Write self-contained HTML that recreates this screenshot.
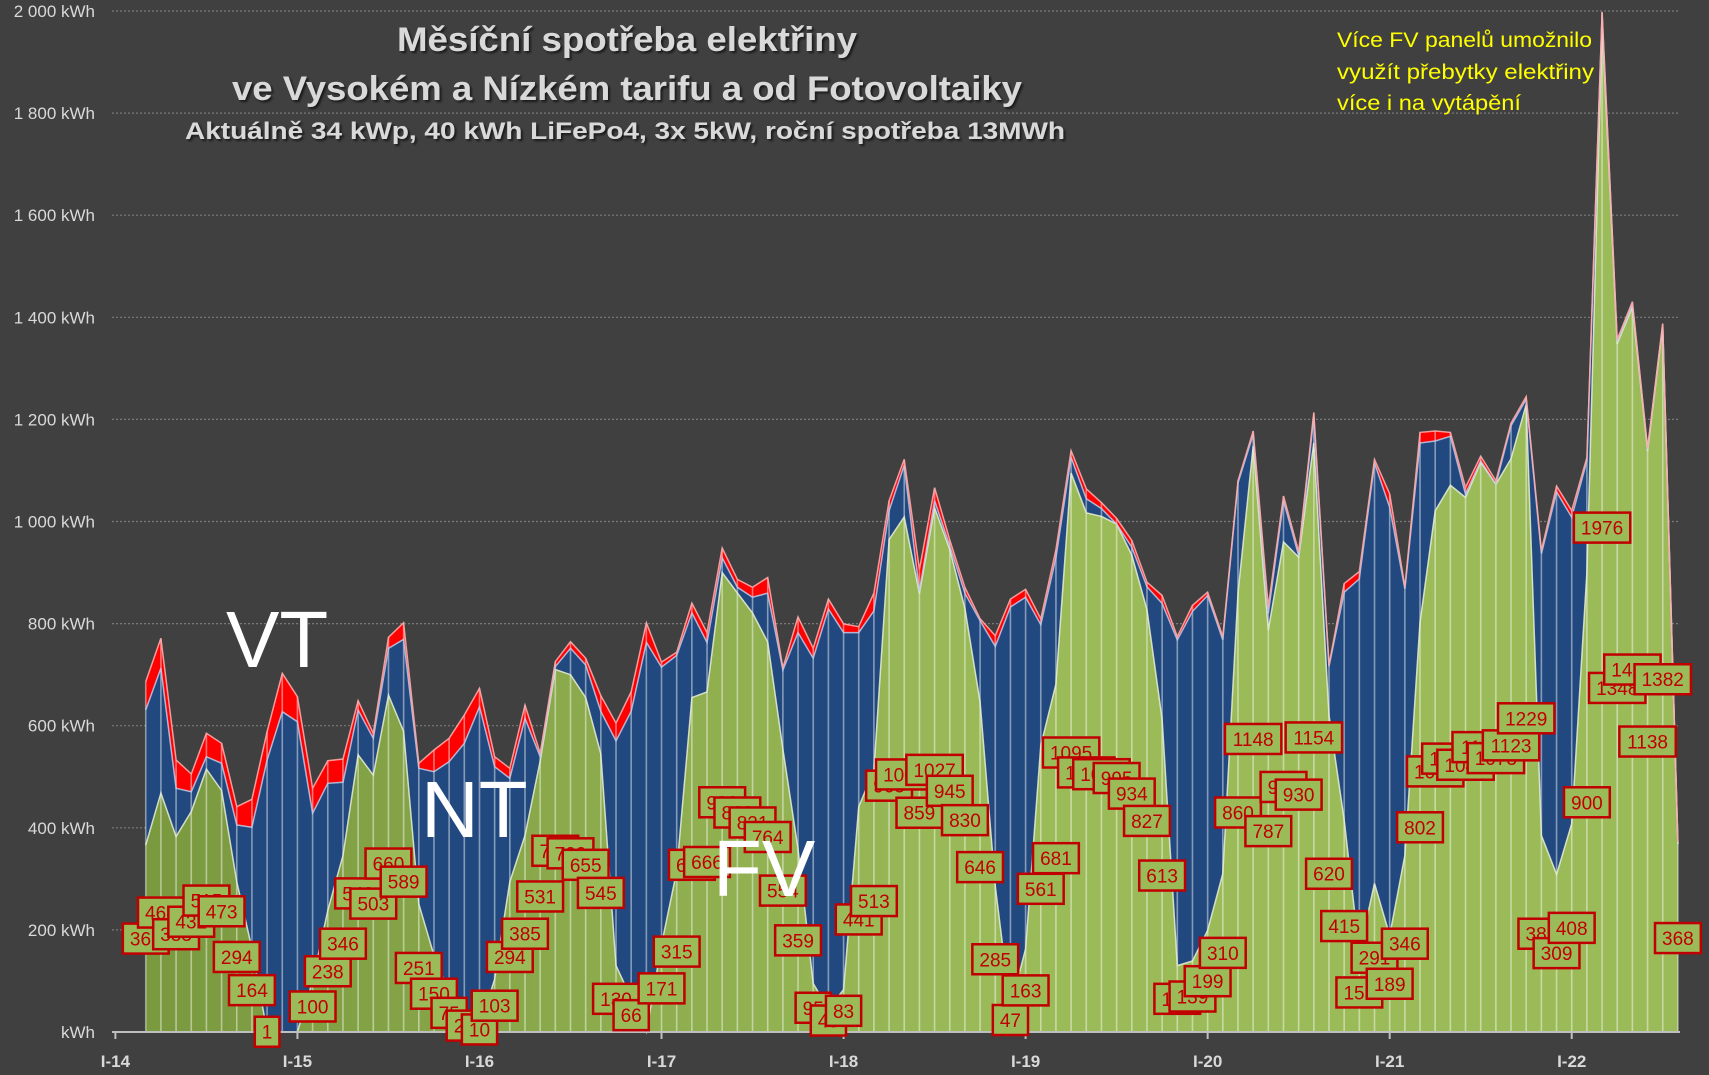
<!DOCTYPE html>
<html><head><meta charset="utf-8"><style>
html,body{margin:0;padding:0;background:#404040;}
svg{display:block;}
</style></head><body>
<svg id="c" width="1709" height="1075" viewBox="0 0 1709 1075" xmlns="http://www.w3.org/2000/svg" font-family="Liberation Sans, sans-serif">
<defs>
<linearGradient id="gg" x1="140" y1="0" x2="1000" y2="0" gradientUnits="userSpaceOnUse">
<stop offset="0" stop-color="#7a993f"/><stop offset="1" stop-color="#9bbb59"/>
</linearGradient>
<filter id="sh"><feDropShadow dx="2" dy="2" stdDeviation="1" flood-color="#000" flood-opacity="0.6"/></filter>
</defs>
<rect width="1709" height="1075" fill="#404040"/>
<g id="grid"></g>
<g id="areas"></g>
<g id="axis"></g>
<g id="labels"></g>
<g fill="#d9d9d9" font-weight="bold" text-anchor="middle" filter="url(#sh)">
<text x="627" y="51" font-size="34" textLength="460" lengthAdjust="spacingAndGlyphs">Měsíční spotřeba elektřiny</text>
<text x="627" y="100" font-size="34" textLength="790" lengthAdjust="spacingAndGlyphs">ve Vysokém a Nízkém tarifu a od Fotovoltaiky</text>
<text x="625" y="139" font-size="24" textLength="880" lengthAdjust="spacingAndGlyphs">Aktuálně 34 kWp, 40 kWh LiFePo4, 3x 5kW, roční spotřeba 13MWh</text>
</g>
<g fill="#ffff00" font-size="21">
<text x="1337" y="47" textLength="255" lengthAdjust="spacingAndGlyphs">Více FV panelů umožnilo</text>
<text x="1337" y="79" textLength="257" lengthAdjust="spacingAndGlyphs">využít přebytky elektřiny</text>
<text x="1337" y="110" textLength="184" lengthAdjust="spacingAndGlyphs">více i na vytápění</text>
</g>
<g fill="#ffffff" font-size="80">
<text x="226" y="667">VT</text>
<text x="421" y="837">NT</text>
<text x="713" y="896">FV</text>
</g>
</svg>
<script>
(function(){
var NS="http://www.w3.org/2000/svg";
function el(p,t,a,txt){var e=document.createElementNS(NS,t);for(var k in a)e.setAttribute(k,a[k]);if(txt!==undefined)e.textContent=txt;p.appendChild(e);return e;}
var X=function(m){return 115.4+15.17*m;};
var B0=1032,K=0.5105;
var R2=[395,265,630,672,550,580,770,748,545,370,440,715,632,627,452,550,262,218,640,600,565,495,415,620,655,465,610,335,275,325];
var Bz2=[480,355,715,725,620,640,825,832,630,485,515,790,700,697,480,565,295,268,655,665,635,580,470,650,685,505,620,350,295,345];
var R3=[700,770,690,515,615,590,465,540,325,405,425,400,630,500,580,455,518,525,440,205,100,380,172,305,425,505,548,455,430,505,330,78,175,210,250];
var Bz3=[740,815,740,565,628,598,490,565,350,425,450,440,635,540,605,480,540,540,485,230,115,435,205,320,440,510,575,475,450,520,350,95,200,225,270];
var R4=[815,878,898,960,913,893,960,725,650,915,748,832,622,1003,880,862,693,745,885,652,650,652,735,688,725,638,598,830,733,770,690,18,512,455,675,488,1270];
var Bz4=[825,885,910,965,922,898,965,728,655,925,755,838,628,1005,893,873,698,765,888,668,665,658,745,695,730,642,602,835,742,780,695,20,515,458,678,490,1272];
var G=[366,468,383,432,515,473,294,164,1,0,0,100,238,346,543,503,660,589,251,150,75,25,10,103,294,385,531,710,700,655,
545,130,66,0,171,315,655,666,900,860,821,764,554,359,95,45,83,441,513,965,1009,859,1027,945,830,646,285,47,163,561,681,1095,1017,1010,995,
934,827,613,130,139,199,310,860,1148,787,960,930,1154,620,415,155,291,189,346,802,1021,1071,1047,1116,1073,1123,1229,385,309,408,900,1976,1348,1420,1138,1382,368];
var Ry=[],By=[],Gy=[],M=[];
R2.forEach(function(v,i){Ry.push(550+v/3);By.push(550+Bz2[i]/3);});
R3.forEach(function(v,i){Ry.push(420+v/2.54);By.push(420+Bz3[i]/2.54);});
R4.forEach(function(v,i){Ry.push(v/1.508);By.push(Bz4[i]/1.508);});
for(var i=0;i<G.length;i++){M.push(i+2);Gy.push(B0-K*G[i]);}
for(i=0;i<G.length;i++){if(By[i]>Gy[i])By[i]=Gy[i];if(Ry[i]>By[i])Ry[i]=By[i];}
var n=G.length;
var grid=document.getElementById('grid');
var ylab=["kWh","200 kWh","400 kWh","600 kWh","800 kWh","1 000 kWh","1 200 kWh","1 400 kWh","1 600 kWh","1 800 kWh","2 000 kWh"];
for(i=0;i<=10;i++){var y=B0-i*102.1;
 if(i>0)el(grid,'line',{x1:112,x2:1678,y1:y,y2:y,stroke:'#7a7a7a','stroke-width':1.2,'stroke-dasharray':'2 2'});
 el(grid,'text',{x:95,y:y+6,'font-size':17,fill:'#d9d9d9','text-anchor':'end'},ylab[i]);}
var A=document.getElementById('areas');
function pts(arr){return arr.map(function(y,i){return X(M[i]).toFixed(1)+','+y.toFixed(1);});}
function rev(a){return a.slice().reverse();}
var gp=pts(Gy),bp=pts(By),rp=pts(Ry);
el(A,'polygon',{points:gp.join(' ')+' '+X(M[n-1])+','+B0+' '+X(2)+','+B0,fill:'url(#gg)'});
el(A,'polygon',{points:bp.join(' ')+' '+rev(gp).join(' '),fill:'#22497f'});
el(A,'polygon',{points:rp.join(' ')+' '+rev(bp).join(' '),fill:'#ff0000'});
for(i=0;i<n;i++){el(A,'line',{x1:X(M[i]),x2:X(M[i]),y1:B0,y2:Ry[i],stroke:'rgba(255,255,255,0.45)','stroke-width':1.6});}
el(A,'polyline',{points:gp.join(' '),fill:'none',stroke:'rgba(235,240,215,0.85)','stroke-width':1.5});
el(A,'polyline',{points:bp.join(' '),fill:'none',stroke:'rgba(190,205,235,0.85)','stroke-width':1.5});
el(A,'polyline',{points:rp.join(' '),fill:'none',stroke:'rgba(255,170,170,0.9)','stroke-width':1.5});
var ax=document.getElementById('axis');
el(ax,'line',{x1:112,x2:1680,y1:B0,y2:B0,stroke:'#bfbfbf','stroke-width':2});
for(i=0;i<=8;i++){var x=X(12*i);el(ax,'line',{x1:x,x2:x,y1:B0,y2:B0+7,stroke:'#bfbfbf','stroke-width':2});
 el(ax,'text',{x:x,y:1067,'font-size':17,'font-weight':'bold',fill:'#d9d9d9','text-anchor':'middle'},'I-'+(14+i));}
var L=document.getElementById('labels');
for(i=0;i<n;i++){if(G[i]<=0)continue;var s=String(G[i]);var w=s.length*10.6+14;
 var cx=X(M[i]),cy=B0-K*G[i]/2;
 el(L,'rect',{x:cx-w/2,y:cy-15,width:w,height:30,fill:'#9bbb59',stroke:'#c00000','stroke-width':2.5});
 el(L,'text',{x:cx,y:cy+7,'font-size':19,fill:'#c00000','text-anchor':'middle'},s);}
})();
</script>
</body></html>
